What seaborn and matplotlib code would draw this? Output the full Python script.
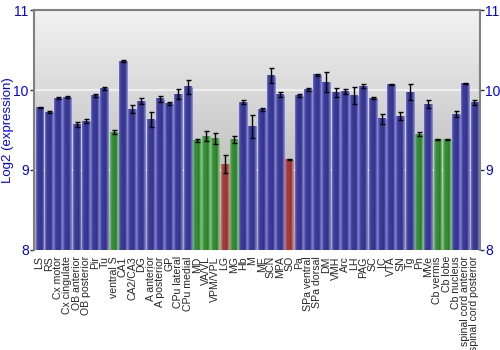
import numpy as np
import pandas as pd
import matplotlib
matplotlib.use("Agg")
import matplotlib.pyplot as plt
import seaborn as sns
from matplotlib.colors import LinearSegmentedColormap, to_rgb

regions = ["LS", "RS", "Cx motor", "Cx cingulate", "OB anterior", "OB posterior", "Pir", "Tu",
           "ventral S", "CA1", "CA2/CA3", "DG", "A anterior", "A posterior", "GP", "CPu lateral",
           "CPu medial", "MD", "VA/VL", "VPM/VPL", "LG", "MG", "Hb", "M", "ME", "SCN", "MPA",
           "SO", "Pa", "SPa ventral", "SPa dorsal", "DM", "VMH", "Arc", "LH", "PAG", "SC", "IC",
           "VTA", "SN", "Tg", "Pn", "MVe", "Cb vermis", "Cb lobe", "Cb nucleus",
           "spinal cord anterior", "spinal cord posterior"]

expression = [9.78, 9.725, 9.90, 9.91, 9.57, 9.61, 9.93, 10.02,
              9.475, 10.36, 9.76, 9.86, 9.63, 9.89, 9.83, 9.95,
              10.04, 9.37, 9.425, 9.39, 9.075, 9.38, 9.85, 9.545, 9.76, 10.18, 9.94,
              9.13, 9.93, 10.01, 10.19, 10.10, 9.97, 9.98, 9.93, 10.05, 9.90, 9.64,
              10.07, 9.675, 9.975, 9.45, 9.825, 9.38, 9.38, 9.70,
              10.08, 9.846]

error = [0.01, 0.01, 0.015, 0.01, 0.03, 0.027, 0.015, 0.02,
         0.02, 0.01, 0.05, 0.035, 0.09, 0.035, 0.015, 0.06,
         0.09, 0.02, 0.06, 0.07, 0.11, 0.04, 0.02, 0.14, 0.02, 0.09, 0.03,
         0.01, 0.02, 0.02, 0.01, 0.12, 0.06, 0.03, 0.11, 0.025, 0.01, 0.06,
         0.01, 0.05, 0.095, 0.03, 0.05, 0.01, 0.01, 0.035,
         0.01, 0.035]

low = {"ventral S", "MD", "VA/VL", "VPM/VPL", "MG", "Pn", "Cb vermis", "Cb lobe"}
lowest = {"LG", "SO"}
group = ["lowest" if r in lowest else "low" if r in low else "normal" for r in regions]

colors = {"normal": "#2b2ba6", "low": "#2a9a2a", "lowest": "#b02c2c"}

df = pd.DataFrame({"region": regions, "expression": expression, "error": error, "group": group})

sns.set_style("white")
plt.rcParams["font.family"] = ["Liberation Sans", "DejaVu Sans"]

fig = plt.figure(figsize=(5, 3.5), dpi=100)
ax = fig.add_axes([0.068, 0.286, 0.892, 0.685])

ymin, ymax = 8, 11
xlo, xhi = -0.6, len(regions) - 0.4

# vertical background gradient
bg = LinearSegmentedColormap.from_list("bg", ["#a9a9a9", "#f2f2f2"])
ax.imshow(np.linspace(0, 1, 256).reshape(-1, 1), cmap=bg, aspect="auto",
          extent=[xlo, xhi, ymin, ymax], origin="lower", zorder=0)

for yv in [9, 10]:
    ax.axhline(yv, color="white", lw=1.5, alpha=0.6, zorder=1)

sns.barplot(data=df, x="region", y="expression", hue="group", palette=colors,
            dodge=False, width=0.85, errorbar=None, legend=False, ax=ax, zorder=2)

# shade each bar with a horizontal gradient, limited to the visible part of the bar
for patch in ax.patches:
    x0, y0 = patch.get_x(), patch.get_y()
    w, h = patch.get_width(), patch.get_height()
    if h == 0:
        continue
    base = np.array(to_rgb(patch.get_facecolor()))
    light = np.clip(base + 0.22, 0, 1)
    dark = base * 0.85
    cmap = LinearSegmentedColormap.from_list("shade", [light, base, base, dark, light])
    ax.imshow(np.linspace(0, 1, 64).reshape(1, -1), cmap=cmap, aspect="auto",
              extent=[x0, x0 + w, max(y0, ymin), y0 + h], zorder=3)
    patch.set_edgecolor(tuple(np.clip(base + 0.3, 0, 1)) + (0.6,))
    patch.set_linewidth(0.6)

ax.errorbar(np.arange(len(regions)), df["expression"], yerr=df["error"], fmt="none",
            ecolor="black", elinewidth=1, capsize=1.8, capthick=1, zorder=4)

ax.set_xlim(xlo, xhi)
ax.set_ylim(ymin, ymax)
ax.set_yticks([8, 9, 10, 11])
ax.tick_params(axis="y", left=True, right=True, labelleft=True, labelright=True,
               length=3, width=1, color="#333333", labelcolor="blue", labelsize=10, pad=0.8)
ax.tick_params(axis="x", bottom=False, pad=1)
ax.set_xticks(np.arange(len(regions)))
ax.set_xticklabels(regions, rotation=90, fontsize=7.6)
ax.set_xlabel("")
ax.set_ylabel("Log2 (expression)", color="blue", fontsize=9.5)
ax.yaxis.set_label_coords(-0.044, 0.5)

for side in ["top", "left", "right"]:
    ax.spines[side].set_color("#808080")
    ax.spines[side].set_linewidth(1.5)
ax.spines["bottom"].set_visible(False)

fig.savefig("out.png", dpi=100)
